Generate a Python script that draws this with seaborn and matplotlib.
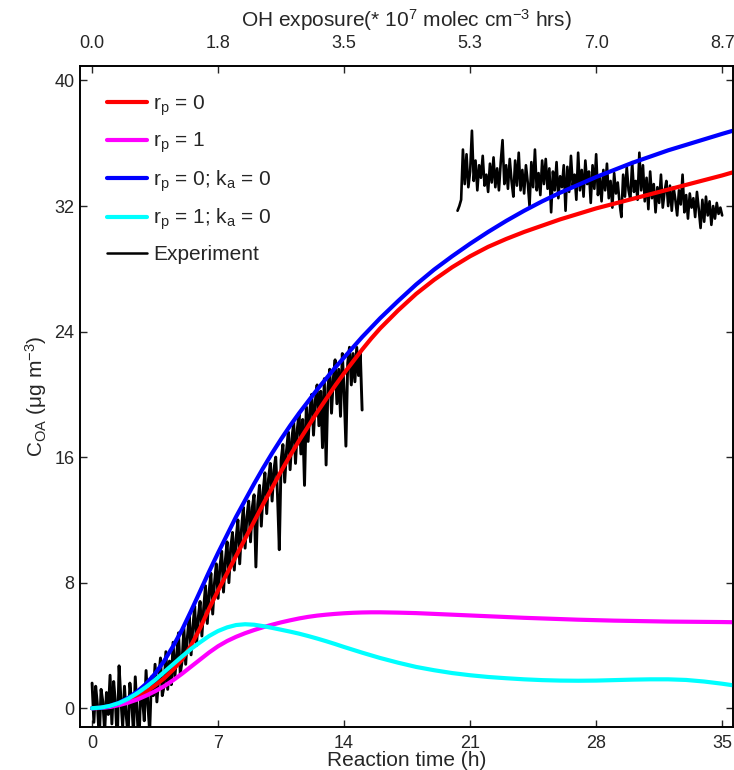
import numpy as np
import pandas as pd
import matplotlib
matplotlib.use("Agg")
import matplotlib.pyplot as plt
import seaborn as sns

# ---------------- data ----------------
t_model = [0, 0.5, 1, 1.5, 2, 2.5, 3, 3.5, 4, 4.5, 5, 5.5, 6, 6.5, 7, 7.5,
           8, 8.5, 9, 9.5, 10, 10.5, 11, 11.5, 12, 12.5, 13, 13.5, 14, 14.5,
           15, 15.5, 16, 17, 18, 19, 20, 21, 22, 23, 24, 25, 26, 27, 28, 29,
           30, 31, 32, 33, 34, 35, 35.6]
c_rp0 = [0, 0.02, 0.1, 0.24, 0.45, 0.72, 1.05, 1.45, 1.9, 2.45, 3.1, 4.0,
         5.1, 6.35, 7.5, 8.6, 9.7, 10.8, 11.9, 13.0, 14.05, 15.1, 16.1, 17.05,
         17.95, 18.85, 19.7, 20.55, 21.35, 22.1, 22.85, 23.55, 24.2, 25.35,
         26.4, 27.3, 28.1, 28.8, 29.4, 29.9, 30.35, 30.75, 31.15, 31.5, 31.85,
         32.15, 32.45, 32.75, 33.05, 33.35, 33.65, 33.95, 34.15]
c_rp1 = [0, 0.02, 0.08, 0.2, 0.35, 0.55, 0.8, 1.08, 1.4, 1.78, 2.2, 2.65,
         3.1, 3.55, 3.95, 4.28, 4.55, 4.78, 4.98, 5.16, 5.32, 5.47, 5.6, 5.72,
         5.82, 5.9, 5.96, 6.01, 6.05, 6.08, 6.1, 6.11, 6.11, 6.09, 6.06, 6.01,
         5.96, 5.91, 5.86, 5.81, 5.76, 5.72, 5.68, 5.64, 5.61, 5.58, 5.56,
         5.54, 5.52, 5.51, 5.5, 5.49, 5.48]
c_rp0_ka0 = [0, 0.03, 0.15, 0.35, 0.65, 1.05, 1.55, 2.2, 3.0, 3.95, 5.0, 6.2,
             7.45, 8.7, 9.9, 11.05, 12.2, 13.25, 14.3, 15.3, 16.25, 17.15,
             18.0, 18.8, 19.55, 20.3, 21.0, 21.7, 22.35, 23.0, 23.65, 24.25,
             24.85, 25.95, 27.0, 27.95, 28.8, 29.6, 30.35, 31.05, 31.7, 32.3,
             32.85, 33.35, 33.85, 34.3, 34.75, 35.15, 35.55, 35.9, 36.25,
             36.6, 36.8]
c_rp1_ka0 = [0, 0.04, 0.15, 0.33, 0.6, 0.95, 1.35, 1.8, 2.3, 2.8, 3.3, 3.78,
             4.2, 4.6, 4.92, 5.15, 5.3, 5.35, 5.32, 5.23, 5.12, 5.0, 4.88,
             4.75, 4.6, 4.44, 4.27, 4.09, 3.9, 3.72, 3.54, 3.37, 3.2, 2.9,
             2.63, 2.42, 2.24, 2.1, 1.99, 1.91, 1.84, 1.79, 1.76, 1.75, 1.76,
             1.79, 1.82, 1.84, 1.84, 1.8, 1.7, 1.56, 1.46]

exp1_values = [
    1.6, -0.9, 1.4, 0.2, -2.0, 1.2, 0.4, -1.5, 1.0, -0.4,
    2.1, -1.0, 1.7, 0.3, -2.2, 2.7, 0.6, -1.2, 1.4, -0.5,
    -1.8, 1.6, 0.4, -1.6, 2.0, -0.2, -2.5, 1.2, 0.6, -0.8,
    2.4, 0.2, -1.5, 2.0, 0.8, 2.8, 0.4, 1.9, 3.2, 0.8,
    1.4, 3.6, 1.2, 3.0, 1.5, 4.2, 2.0, 3.4, 4.8, 2.2,
    3.0, 5.1, 2.8, 4.6, 5.9, 3.4, 5.2, 6.5, 4.0, 5.8,
    6.8, 4.6, 6.4, 7.8, 5.4, 7.4, 8.6, 6.0, 8.0, 9.2,
    7.0, 9.0, 10.0, 7.4, 9.4, 10.6, 8.0, 10.2, 11.2, 8.8,
    10.8, 12.0, 9.2, 11.4, 12.8, 10.2, 12.2, 13.2, 10.6, 12.8,
    13.6, 9.0, 13.0, 14.2, 11.6, 13.8, 15.0, 12.4, 14.6, 15.6,
    13.2, 15.2, 16.0, 13.6, 10.1, 15.8, 16.8, 14.4, 16.4, 17.6,
    15.2, 17.2, 18.2, 15.6, 17.8, 18.8, 16.2, 18.4, 14.2, 19.2,
    17.0, 19.0, 20.0, 17.4, 19.6, 20.6, 18.0, 20.2, 16.6, 21.0,
    15.5, 20.4, 21.6, 18.8, 21.0, 22.2, 19.4, 21.6, 18.6, 22.6,
    20.2, 16.7, 22.0, 23.0, 20.6, 22.6, 20.8, 23.0, 21.2, 22.6,
    19.0,
]
exp2_values = [
    31.7, 32.0, 32.4, 35.6, 33.4, 35.3, 33.2, 34.2, 36.8, 33.6,
    34.9, 33.0, 34.6, 33.8, 35.2, 33.3, 34.0, 32.9, 34.7, 33.5,
    35.1, 33.2, 34.4, 33.0, 34.8, 36.2, 33.4, 34.6, 33.1, 35.0,
    33.6, 32.6, 34.9, 33.3, 35.4, 33.0, 34.3, 32.8, 34.6, 33.5,
    32.0, 34.8, 33.2, 35.6, 33.0, 34.1, 32.7, 34.9, 33.4, 35.0,
    33.1, 34.4, 31.6, 34.2, 33.0, 34.8, 32.5, 33.9, 33.2, 34.6,
    31.7, 34.5, 32.9, 35.2, 33.3, 34.0, 32.4, 35.4, 33.0, 34.3,
    32.6, 34.9, 33.4, 34.2, 32.2, 34.6, 33.1, 35.3, 32.7, 33.8,
    32.3, 34.3, 33.0, 34.7, 32.5, 33.6, 31.9, 34.1, 32.8, 33.5,
    32.2, 31.3, 34.0, 32.6, 34.5, 33.0, 32.4, 34.8, 32.9, 33.6,
    32.4, 35.4, 33.0, 34.6, 32.3, 33.8, 31.8, 34.2, 32.5, 33.4,
    31.6, 33.2, 32.2, 34.0, 31.9, 32.9, 33.6, 32.0, 33.3, 31.7,
    33.2, 32.4, 31.4, 33.0, 32.1, 34.0, 31.6, 32.7, 31.2, 32.8,
    31.9, 32.5, 31.3, 32.9, 31.8, 30.6, 32.4, 31.0, 32.6, 31.4,
    32.3, 30.8, 32.0, 31.2, 32.2, 31.5, 31.9, 31.4,
]
exp1_t = np.linspace(0.0, 15.0, len(exp1_values))
exp2_t = np.linspace(20.3, 35.0, len(exp2_values))

x_ticks = [0, 7, 14, 21, 28, 35]
top_tick_labels = ["0.0", "1.8", "3.5", "5.3", "7.0", "8.7"]
y_ticks = [0, 8, 16, 24, 32, 40]

labels = [r"r$_p$ = 0", r"r$_p$ = 1", r"r$_p$ = 0; k$_a$ = 0",
          r"r$_p$ = 1; k$_a$ = 0", "Experiment"]
colors = ["#ff0000", "#ff00ff", "#0000ff", "#00ffff", "#000000"]

# ---------------- style ----------------
sns.set_style("ticks")
plt.rcParams["font.family"] = ["Liberation Sans", "DejaVu Sans"]
plt.rcParams["mathtext.default"] = "regular"
plt.rcParams["axes.linewidth"] = 1.2

fig = plt.figure(figsize=(7.34, 7.70), dpi=100)
ax = fig.add_axes([0.109, 0.0558, 0.8896, 0.858])

model_df = pd.DataFrame({"t": t_model, "rp0": c_rp0, "rp1": c_rp1,
                         "rp0ka0": c_rp0_ka0, "rp1ka0": c_rp1_ka0})
exp1_df = pd.DataFrame({"t": exp1_t, "c": exp1_values})
exp2_df = pd.DataFrame({"t": exp2_t, "c": exp2_values})

sns.lineplot(data=exp1_df, x="t", y="c", ax=ax, color="black", lw=2.1,
             zorder=2, estimator=None, sort=False)
sns.lineplot(data=exp2_df, x="t", y="c", ax=ax, color="black", lw=1.9,
             zorder=2, estimator=None, sort=False)
handles = []
for col, c in zip(["rp0", "rp1", "rp0ka0", "rp1ka0"], colors[:4]):
    sns.lineplot(data=model_df, x="t", y=col, ax=ax, color=c, lw=3.0,
                 zorder=3, estimator=None, sort=False)
    handles.append(plt.Line2D([], [], color=c, lw=3.0))
handles.append(plt.Line2D([], [], color="black", lw=1.8))

ax.set_xlim(-0.67, 35.6)
ax.set_ylim(-1.2, 40.9)
ax.set_xticks(x_ticks)
ax.set_yticks(y_ticks)
ax.tick_params(direction="in", length=5, width=1, labelsize=13,
               right=True, top=False)
ax.tick_params(axis="x", pad=6)
ax.tick_params(axis="y", pad=4)
ax.set_xlabel("Reaction time (h)", fontsize=15, labelpad=-1)
ax.set_ylabel(r"C$_{OA}$ (μg m$^{-3}$)", fontsize=15, labelpad=4)

ax2 = ax.twiny()
ax2.set_xlim(ax.get_xlim())
ax2.set_xticks(x_ticks)
ax2.set_xticklabels(top_tick_labels)
ax2.tick_params(direction="in", length=5, width=1, labelsize=13, pad=10)
ax2.set_xlabel(r"OH exposure(* 10$^7$ molec cm$^{-3}$ hrs)", fontsize=15,
               labelpad=6)
for a in (ax, ax2):
    for s in a.spines.values():
        s.set_visible(True)
        s.set_color("black")

ax.legend(handles, labels, loc="upper left", bbox_to_anchor=(0.0, 1.0),
          frameon=False, fontsize=15, handlelength=1.9, handletextpad=0.3,
          labelspacing=0.62, borderaxespad=0.9)

fig.savefig("out.png", dpi=100)
